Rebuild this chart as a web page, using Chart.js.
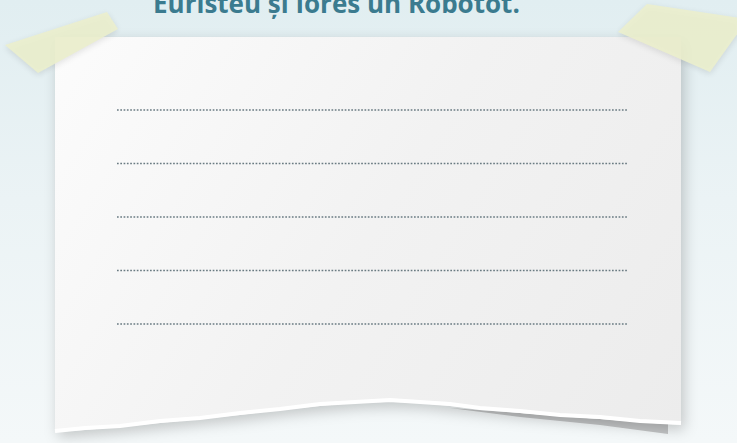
<!DOCTYPE html>
<html lang="ro">
<head>
<meta charset="utf-8">
<script src="https://cdn.jsdelivr.net/npm/chart.js"></script>
<style>
    html, body { margin: 0; padding: 0; }
    body {
        width: 737px; height: 443px; overflow: hidden; position: relative;
        background: linear-gradient(180deg, #e1eef1 0%, #ebf3f5 45%, #f4f8f9 100%);
    }
    #title {
        position: absolute; left: 153px; top: -15px;
        font: bold 26px "Open Sans", sans-serif; color: #3b7b8f;
        white-space: nowrap;
    }
    #myChart { position: absolute; left: 0; top: 0; }
</style>
</head>
<body>
    <div id="title">Euristeu și Iores un Robotot.</div>
    <canvas id="myChart" width="737" height="443"></canvas>

<script>
    // rânduri de scris pe foaie (de sus în jos)
    const rows = ['rând 1', 'rând 2', 'rând 3', 'rând 4', 'rând 5'];
    const rowLevel = [5, 4, 3, 2, 1];
    const lineFrom = 0;
    const lineTo = 1;

    // foaia rupta + umbra
    const paperPlugin = {
        id: 'paper',
        beforeDraw(chart) {
            const ctx = chart.ctx;
            const edge = [[681,425],[640,422],[600,419],[560,416],[520,413],[480,409],[450,406],[420,403],
                          [390,402],[355,403],[320,406],[280,410],[240,415],[200,419],[160,423],[120,427],[85,430],[55,432]];
            ctx.save();
            // strat gri sub marginea rupta (dreapta)
            ctx.beginPath();
            ctx.moveTo(450, 408);
            ctx.lineTo(520, 417); ctx.lineTo(600, 425); ctx.lineTo(668, 434); ctx.lineTo(668, 424);
            ctx.lineTo(600, 419); ctx.lineTo(520, 413); ctx.closePath();
            ctx.fillStyle = '#c2c4c5';
            ctx.fill();

            ctx.shadowColor = 'rgba(0,0,0,0.20)';
            ctx.shadowBlur = 14;
            ctx.shadowOffsetX = 3;
            ctx.shadowOffsetY = 5;
            ctx.beginPath();
            ctx.moveTo(55, 37);
            ctx.lineTo(681, 37);
            edge.forEach(p => ctx.lineTo(p[0], p[1]));
            ctx.closePath();
            const g = ctx.createLinearGradient(55, 37, 681, 432);
            g.addColorStop(0, '#fcfcfc');
            g.addColorStop(0.5, '#f2f2f2');
            g.addColorStop(1, '#ececec');
            ctx.fillStyle = g;
            ctx.fill();
            ctx.restore();

            // marginea alba rupta
            ctx.save();
            ctx.beginPath();
            edge.forEach((p, i) => i ? ctx.lineTo(p[0], p[1] - 2 + (i % 2)) : ctx.moveTo(p[0], p[1] - 2));
            ctx.strokeStyle = '#ffffff';
            ctx.lineWidth = 4;
            ctx.stroke();
            ctx.restore();
        },
        afterDraw(chart) {
            const ctx = chart.ctx;
            const tapes = [
                [[5,45],[107,12],[118,29],[38,73]],
                [[647,4],[740,18],[740,30],[710,72],[618,32]]
            ];
            ctx.save();
            tapes.forEach(t => {
                ctx.shadowColor = 'rgba(0,0,0,0.12)';
                ctx.shadowBlur = 6;
                ctx.shadowOffsetY = 2;
                ctx.beginPath();
                t.forEach((p, i) => i ? ctx.lineTo(p[0], p[1]) : ctx.moveTo(p[0], p[1]));
                ctx.closePath();
                ctx.fillStyle = 'rgba(236,239,204,0.88)';
                ctx.fill();
            });
            ctx.restore();
        }
    };

    const datasets = rows.map((r, i) => ({
        label: r,
        data: [{ x: lineFrom, y: rowLevel[i] }, { x: lineTo, y: rowLevel[i] }],
        borderColor: '#6a7b82',
        borderWidth: 1.7,
        borderDash: [1.7, 1.6],
        pointRadius: 0,
        fill: false,
        clip: false
    }));

    const ctx = document.getElementById('myChart').getContext('2d');
    const chart = new Chart(ctx, {
        type: 'line',
        data: { datasets: datasets },
        options: {
            responsive: false,
            animation: false,
            layout: { padding: { left: 117, right: 110, top: 110, bottom: 119 } },
            scales: {
                x: { type: 'linear', min: 0, max: 1, display: false },
                y: { min: 1, max: 5, display: false }
            },
            plugins: {
                legend: { display: false },
                tooltip: { enabled: false }
            }
        },
        plugins: [paperPlugin]
    });
</script>
</body>
</html>
